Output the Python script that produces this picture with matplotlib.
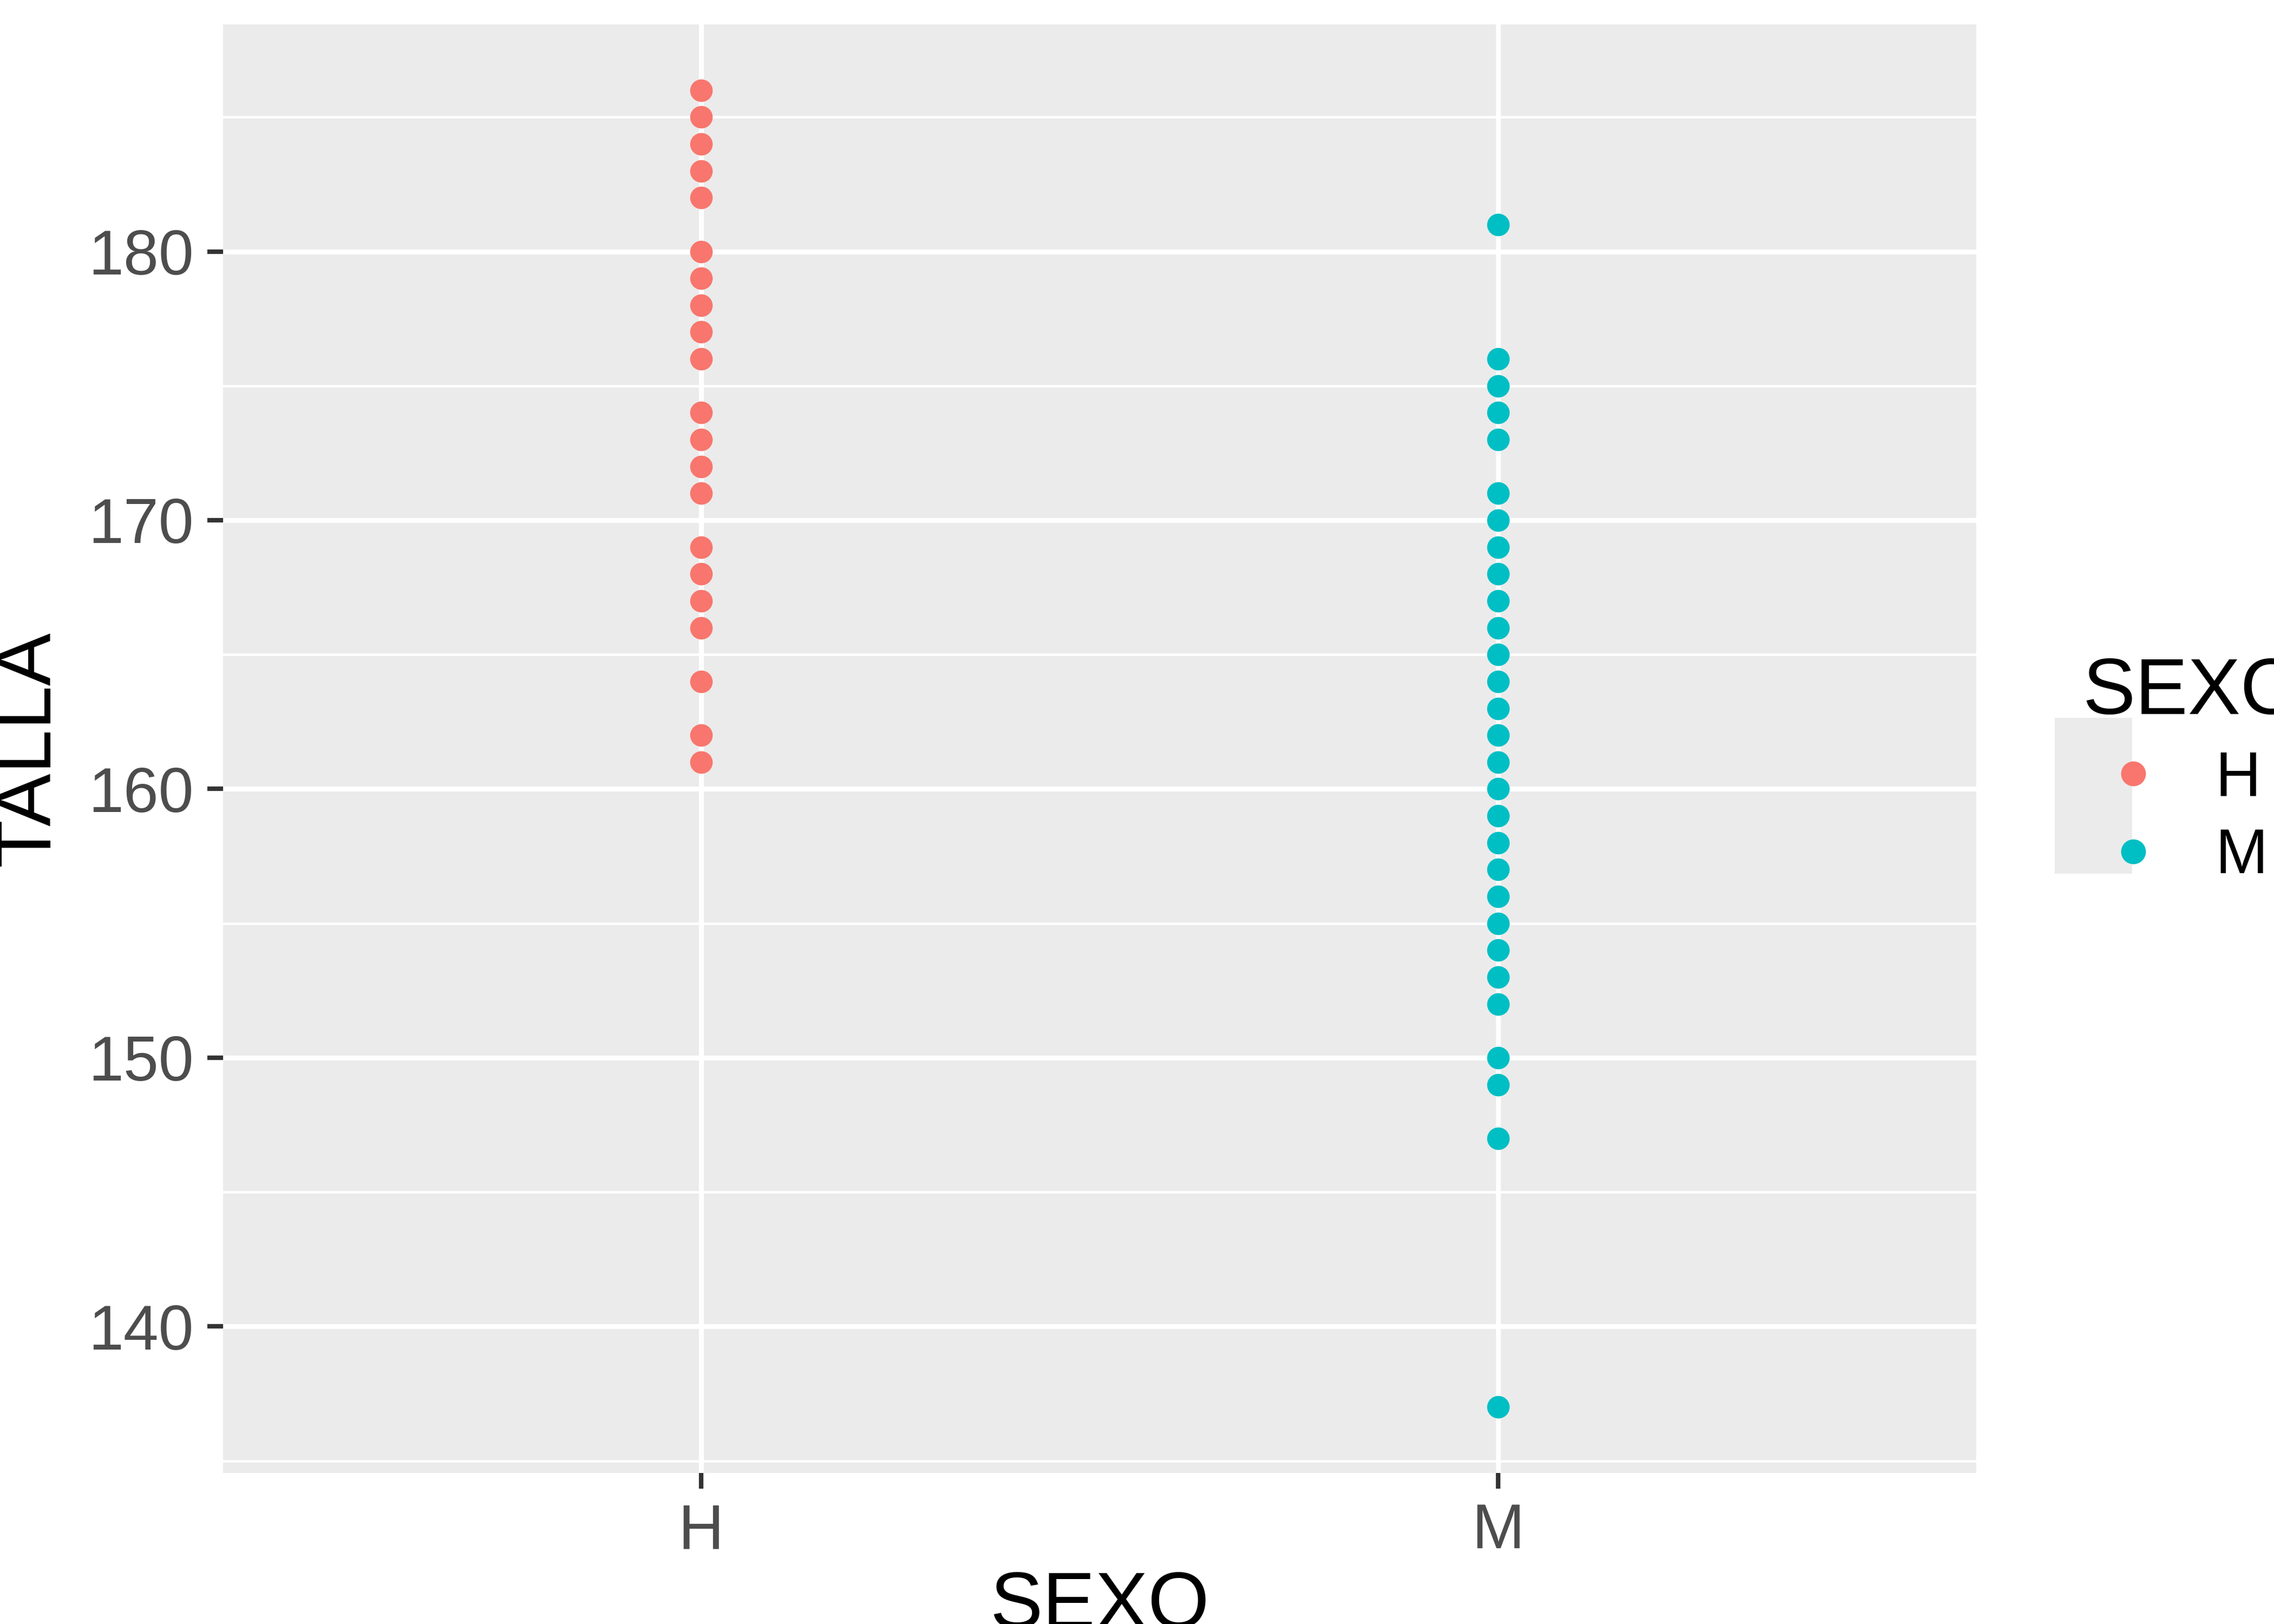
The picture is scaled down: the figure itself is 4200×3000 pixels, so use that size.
import matplotlib
matplotlib.use("Agg")
import matplotlib.pyplot as plt
from matplotlib.lines import Line2D
from matplotlib.patches import Rectangle

categories = ["H", "M"]
talla_h = [186,185,184,183,182,180,179,178,177,176,174,173,172,171,169,168,167,166,164,162,161]
talla_m = [181,176,175,174,173,171,170,169,168,167,166,165,164,163,162,161,160,159,158,157,156,155,154,153,152,150,149,147,137]
colors = {"H": "#F8766D", "M": "#00BFC4"}

plt.rcParams['font.family'] = ['Liberation Sans', 'DejaVu Sans']
fig = plt.figure(figsize=(14, 10), dpi=300)
ax = fig.add_axes([0.098, 0.093, 0.771, 0.892])
ax.set_facecolor("#EBEBEB")
for k, vals in zip(categories, [talla_h, talla_m]):
    ax.scatter([categories.index(k) + 1] * len(vals), vals, s=100, color=colors[k], zorder=3, linewidths=0)

ax.set_xlim(0.4, 2.6)
lo, hi = 137, 186
pad = (hi - lo) * 0.05
ax.set_ylim(lo - pad, hi + pad)
ax.set_xticks([1, 2])
ax.set_xticklabels(categories)
ax.set_yticks([140, 150, 160, 170, 180])
ax.set_yticks([135, 145, 155, 165, 175, 185], minor=True)
ax.grid(True, which="major", color="white", linewidth=2.2, zorder=0)
ax.grid(True, which="minor", axis="y", color="white", linewidth=1.1, zorder=0)
ax.set_axisbelow(True)
for s in ax.spines.values():
    s.set_visible(False)
ax.tick_params(which="major", length=7, width=2, color="#333333", labelsize=28, labelcolor="#4D4D4D", pad=6)
ax.tick_params(which="minor", length=0)
ax.set_xlabel("SEXO", fontsize=35, labelpad=4)
ax.set_ylabel("TALLA", fontsize=35, labelpad=10)

fig.patches.append(Rectangle((0.9035, 0.462), 0.034, 0.096, transform=fig.transFigure,
                             facecolor="#EBEBEB", edgecolor="none", zorder=0))
handles = [Line2D([0], [0], marker='o', linestyle='', color=colors[k], markersize=10, label=k) for k in categories]
leg = fig.legend(handles=handles, title="SEXO", loc="upper left", bbox_to_anchor=(0.902, 0.615),
                 frameon=False, fontsize=28, title_fontsize=35, handletextpad=0.5, labelspacing=0.3,
                 borderpad=0, handlelength=1.6)
leg._legend_box.align = "left"
fig.savefig("out.png", dpi=300)
